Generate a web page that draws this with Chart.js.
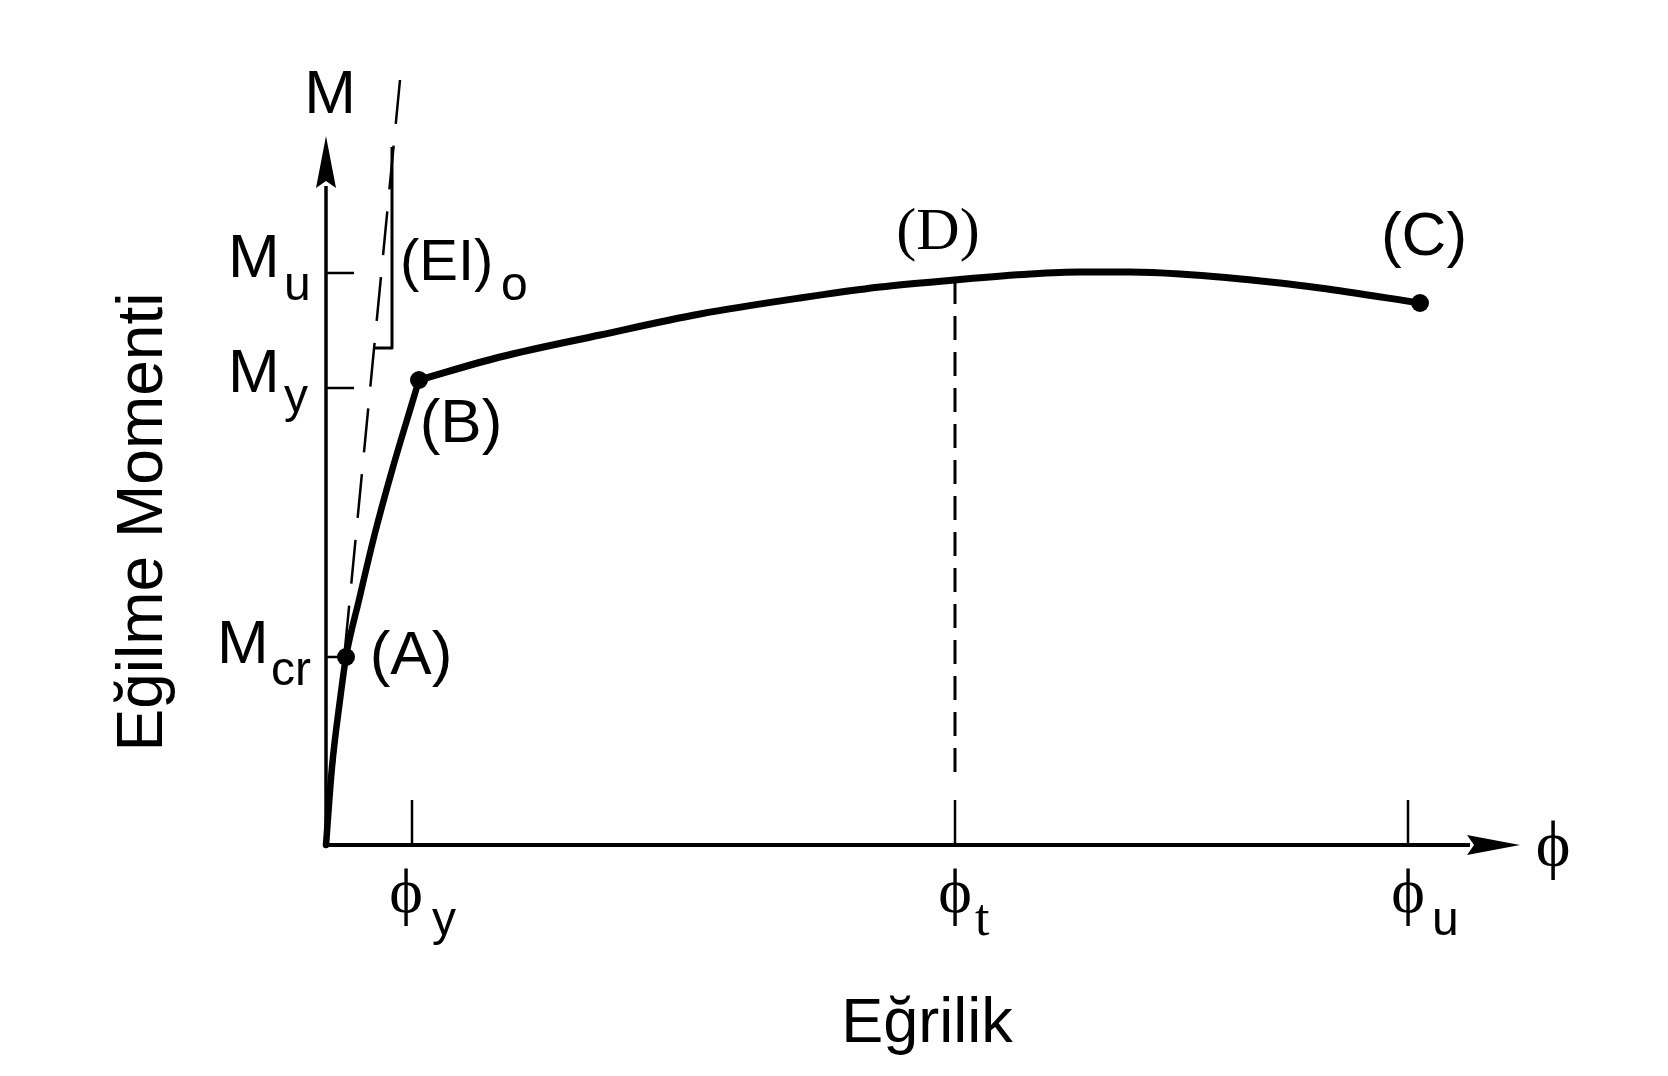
<!DOCTYPE html>
<html><head><meta charset="utf-8">
<script src="https://cdn.jsdelivr.net/npm/chart.js@4"></script>
<style>html,body{margin:0;padding:0;background:#fff}#wrap{width:1668px;height:1076px}</style>
</head><body><div id="wrap"><canvas id="c" width="1668" height="1076"></canvas></div>
<script>
// ---- data (schematic units) ----
const curvatureElastic = [0, 6, 14, 20, 33, 49, 67, 87, 93];
const momentElastic    = [0, 78, 145, 188, 245, 312, 378, 445, 465];
const curvaturePlastic = [93, 174, 274, 374, 474, 554, 628, 704, 754, 804, 854, 954, 994, 1094];
const momentPlastic    = [465, 488, 510, 531, 547, 558, 565, 571, 573, 573, 571, 562, 557, 542];
const keyPointLabels = ['(A)', '(B)', '(C)'];
const keyCurvature = [20, 93, 1094];
const keyMoment = [188, 465, 542];
const phiTickSubs = ['y', 't', 'u'];
const phiTickValues = [86, 629, 1082];
const momentTickSubs = ['cr', 'y', 'u'];
const momentTickValues = [188, 457, 572];
const initialStiffnessCurvature = [74, 0];
const initialStiffnessMoment = [765, 0];
const slopeCurvature = [49, 66, 66];
const slopeMoment = [497, 497, 698];
const axisEnd = [1194, 709]; // arrow tips: curvature, moment
const peakCurvature = 629, peakMoment = 565;

const pts = (xs, ys) => xs.map((x, i) => ({x, y: ys[i]}));
const SANS = '"Liberation Sans", Arial, sans-serif';
const SERIF = '"Liberation Serif", "Times New Roman", "DejaVu Serif", serif';
const PHI = '\u03D5';

const line = (data, w, dash, extra) => Object.assign({
  data, showLine: true, borderColor: '#000', backgroundColor: '#000',
  borderWidth: w, borderDash: dash || [], pointRadius: 0, clip: false,
  borderCapStyle: 'butt', borderJoinStyle: 'round'
}, extra || {});

const datasets = [
  line(pts([0, axisEnd[0] - 50], [0, 0]), 4),
  line(pts([0, 0], [0, axisEnd[1] - 50]), 3.5),
  line(pts(initialStiffnessCurvature, initialStiffnessMoment), 2.5, [44, 22]),
  line(pts(slopeCurvature, slopeMoment), 3),
  line(pts([peakCurvature, peakCurvature], [peakMoment, 61]), 3, [24, 12]),
  ...phiTickValues.map(v => line(pts([v, v], [0, 45]), 2.5)),
  ...momentTickValues.map((v, i) => line(pts([0, i === 0 ? 19 : 28], [v, v]), 2.5)),
  line(pts(curvatureElastic, momentElastic), 6.5, null, {cubicInterpolationMode: 'monotone', borderCapStyle: 'round'}),
  line(pts(curvaturePlastic, momentPlastic), 7, null, {cubicInterpolationMode: 'monotone', borderCapStyle: 'round'}),
  {data: pts(keyCurvature, keyMoment), showLine: false, pointRadius: 9, pointBackgroundColor: '#000', pointBorderWidth: 0, clip: false}
];

const labels = {
  id: 'labels',
  afterDatasetsDraw(c) {
    const ctx = c.ctx, X = c.scales.x, Y = c.scales.y;
    const px = v => X.getPixelForValue(v), py = v => Y.getPixelForValue(v);
    ctx.save();
    ctx.fillStyle = '#000';
    // arrowheads
    const ox = px(0), oy = py(0);
    const ty = py(axisEnd[1]);
    ctx.beginPath(); ctx.moveTo(ox, ty); ctx.lineTo(ox - 10, ty + 52); ctx.lineTo(ox, ty + 45); ctx.lineTo(ox + 10, ty + 52); ctx.closePath(); ctx.fill();
    const tx = px(axisEnd[0]);
    ctx.beginPath(); ctx.moveTo(tx, oy); ctx.lineTo(tx - 53, oy - 10); ctx.lineTo(tx - 46, oy); ctx.lineTo(tx - 53, oy + 10); ctx.closePath(); ctx.fill();

    const t = (s, x, y, font, align) => { ctx.font = font; ctx.textAlign = align || 'left'; ctx.textBaseline = 'alphabetic'; ctx.fillText(s, x, y); };
    // axis symbols
    t('M', ox + 4, ty - 23, '62px ' + SANS, 'center');
    t(PHI, tx + 33, oy + 21, '66px ' + SERIF, 'center');
    // moment tick labels
    const mLeft = [ox - 109, ox - 98, ox - 98];
    const mBase = [6, 4, 4];
    const sLeft = [ox - 55, ox - 42, ox - 42];
    const sBase = [28, 24, 27];
    momentTickValues.forEach((v, i) => {
      t('M', mLeft[i], py(v) + mBase[i], '62px ' + SANS);
      t(momentTickSubs[i], sLeft[i], py(v) + sBase[i], '48px ' + SANS);
    });
    // phi tick labels
    const subFont = ['48px ' + SANS, '52px ' + SERIF, '48px ' + SANS];
    const subDx = [26, 20, 24];
    phiTickValues.forEach((v, i) => {
      const x = px(v) - (i === 0 ? 6 : 0);
      t(PHI, x, oy + 67, '64px ' + SERIF, 'center');
      t(phiTickSubs[i], x + subDx[i], oy + 90, subFont[i]);
    });
    // key point labels
    const kdx = [65, 42, 4], kdy = [17, 62, -48];
    keyPointLabels.forEach((s, i) => t(s, px(keyCurvature[i]) + kdx[i], py(keyMoment[i]) + kdy[i], '62px ' + SANS, 'center'));
    t('(D)', px(peakCurvature) - 17, py(peakMoment) - 31, '60px ' + SERIF, 'center');
    // (EI)o
    t('(EI)', ox + 74, 280, '58px ' + SANS);
    t('o', ox + 175, 300, '48px ' + SANS);
    // axis titles
    t('Eğrilik', 927, 1042, '63px ' + SANS, 'center');
    ctx.translate(162, 522); ctx.rotate(-Math.PI / 2);
    t('Eğilme Momenti', 0, 0, '64px ' + SANS, 'center');
    ctx.restore();
  }
};

new Chart(document.getElementById('c'), {
  type: 'scatter',
  data: {datasets},
  options: {
    responsive: false, animation: false, events: [],
    layout: {padding: {left: 326, right: 128, top: 40, bottom: 231}},
    scales: {
      x: {type: 'linear', min: 0, max: 1214, display: false},
      y: {type: 'linear', min: 0, max: 805, display: false}
    },
    plugins: {legend: {display: false}, tooltip: {enabled: false}, title: {display: false}}
  },
  plugins: [labels]
});
</script></body></html>
